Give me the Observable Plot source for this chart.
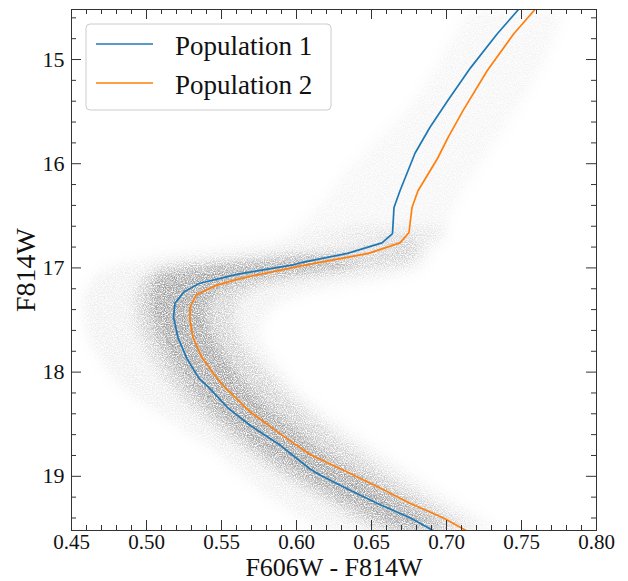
<!DOCTYPE html>
<html><head><meta charset="utf-8">
<script src="https://cdn.jsdelivr.net/npm/d3@7"></script>
<script src="https://cdn.jsdelivr.net/npm/@observablehq/plot@0.6"></script>
<style>body{margin:0;background:#fff} svg{display:block}</style>
</head><body><div id="chart"></div>
<script>
// ---------- data ----------
const seriesNames = ["Population 1", "Population 2"];
const seriesColors = ["#1f77b4", "#ff7f0e"];

// Population 1 isochrone (colour, magnitude), listed along the curve
const pop1Color = [0.748,0.734,0.716,0.701,0.689,0.679,0.669,0.665,0.664,0.657,0.634,0.603,0.598,0.561,0.535,0.525,0.519,0.518,0.521,0.527,0.535,0.541,0.554,0.569,0.589,0.609,0.616,0.631,0.654,0.676,0.691];
const pop1Mag   = [14.52,14.75,15.08,15.39,15.65,15.90,16.26,16.42,16.67,16.76,16.86,16.95,16.97,17.06,17.15,17.23,17.34,17.47,17.67,17.87,18.06,18.14,18.34,18.51,18.70,18.93,18.99,19.10,19.26,19.40,19.52];

// Population 2 isochrone
const pop2Color = [0.759,0.745,0.727,0.711,0.701,0.694,0.681,0.677,0.675,0.669,0.648,0.603,0.563,0.546,0.533,0.529,0.529,0.531,0.537,0.547,0.554,0.569,0.589,0.609,0.631,0.654,0.676,0.698,0.713];
const pop2Mag   = [14.52,14.75,15.11,15.49,15.75,15.95,16.26,16.42,16.66,16.76,16.86,16.98,17.10,17.17,17.26,17.38,17.50,17.67,17.86,18.06,18.17,18.38,18.59,18.79,18.94,19.10,19.26,19.40,19.52];

// star cloud envelopes (magnitude, blue edge, red edge): sparse giants, faint halo, medium, dense core
const rgbMag   = [14.52,15.0,15.5,16.0,16.4,16.75];
const rgbLeft  = [0.716,0.696,0.673,0.639,0.616,0.590];
const rgbRight = [0.779,0.766,0.746,0.723,0.706,0.696];

const outerMag   = [16.6,16.75,16.85,17.0,17.15,17.3,17.6,17.9,18.2,18.5,18.8,19.1,19.52];
const outerLeft  = [0.640,0.590,0.529,0.476,0.463,0.458,0.460,0.470,0.489,0.519,0.549,0.573,0.616];
const outerRight = [0.700,0.696,0.689,0.683,0.643,0.596,0.576,0.586,0.603,0.629,0.659,0.689,0.736];

const midMag   = [16.7,16.8,16.9,16.97,17.05,17.15,17.3,17.5,17.7,17.9,18.2,18.5,18.8,19.1,19.52];
const midLeft  = [0.665,0.640,0.590,0.530,0.505,0.495,0.493,0.493,0.498,0.505,0.520,0.543,0.570,0.603,0.652];
const midRight = [0.680,0.683,0.679,0.669,0.623,0.583,0.563,0.559,0.563,0.573,0.593,0.616,0.643,0.673,0.719];

const coreMag   = [16.9,16.97,17.05,17.15,17.3,17.5,17.7,17.9,18.2,18.5,18.8,19.1,19.52];
const coreLeft  = [0.600,0.560,0.512,0.505,0.503,0.505,0.510,0.518,0.533,0.555,0.581,0.615,0.668];
const coreRight = [0.610,0.640,0.600,0.560,0.543,0.541,0.546,0.555,0.571,0.595,0.621,0.655,0.703];

// axes
const xDomain = [0.45, 0.80];
const yDomain = [14.52, 19.52];
const xMajor = [0.45,0.50,0.55,0.60,0.65,0.70,0.75,0.80];
const yMajor = [15,16,17,18,19];
const xLabel = "F606W - F814W";
const yLabel = "F814W";

// ---------- build ----------
const W = 628, H = 581;
const mL = 71, mR = 32, mT = 9, mB = 51;
const fw = W - mL - mR, fh = H - mT - mB;
const xMinor = d3.range(45, 81).map(d => d / 100).filter(d => !xMajor.some(m => Math.abs(m - d) < 1e-9));
const yMinor = d3.range(73, 98).map(d => d / 5).filter(d => d > yDomain[0] && d < yDomain[1] && !yMajor.includes(d));

const line1 = pop1Color.map((c, i) => ({x: c, y: pop1Mag[i], s: seriesNames[0]}));
const line2 = pop2Color.map((c, i) => ({x: c, y: pop2Mag[i], s: seriesNames[1]}));
const band = (m, l, r) => m.map((v, i) => ({y: v, x1: l[i], x2: r[i]}));

const serif = "'Liberation Serif', 'DejaVu Serif', serif";
const ax = "#333";
const MAJ = 10, MIN = 5;
const cloud = (m, l, r, fill, op) => Plot.areaX(band(m, l, r), {y: "y", x1: "x1", x2: "x2", fill, fillOpacity: op, curve: "natural", clip: true});

const plot = Plot.plot({
  width: W, height: H,
  marginLeft: mL, marginRight: mR, marginTop: mT, marginBottom: mB,
  style: {fontFamily: serif, background: "#fff", color: "#111"},
  x: {domain: xDomain, axis: null},
  y: {domain: yDomain, reverse: true, axis: null},
  color: {domain: seriesNames, range: seriesColors},
  marks: [
    cloud(rgbMag, rgbLeft, rgbRight, "#999", 0.13),
    cloud(outerMag, outerLeft, outerRight, "#999", 0.2),
    cloud(midMag, midLeft, midRight, "#888", 0.36),
    cloud(coreMag, coreLeft, coreRight, "#707070", 0.55),
    Plot.line(line1, {x: "x", y: "y", stroke: "s", strokeWidth: 1.7, clip: true}),
    Plot.line(line2, {x: "x", y: "y", stroke: "s", strokeWidth: 1.7, clip: true}),
    Plot.frame({stroke: ax, strokeWidth: 1}),
    // inward ticks on all four sides
    Plot.ruleX(xMajor, {x: d => d, insetTop: fh - MAJ, stroke: ax}),
    Plot.ruleX(xMajor, {x: d => d, insetBottom: fh - MAJ, stroke: ax}),
    Plot.ruleX(xMinor, {x: d => d, insetTop: fh - MIN, stroke: ax}),
    Plot.ruleX(xMinor, {x: d => d, insetBottom: fh - MIN, stroke: ax}),
    Plot.ruleY(yMajor, {y: d => d, insetRight: fw - MAJ, stroke: ax}),
    Plot.ruleY(yMajor, {y: d => d, insetLeft: fw - MAJ, stroke: ax}),
    Plot.ruleY(yMinor, {y: d => d, insetRight: fw - MIN, stroke: ax}),
    Plot.ruleY(yMinor, {y: d => d, insetLeft: fw - MIN, stroke: ax}),
    // tick labels
    Plot.text(xMajor, {x: d => d, frameAnchor: "bottom", dy: 12, lineAnchor: "middle", textAnchor: "middle", text: d => d3.format(".2f")(d), fontSize: 21, fill: "#111"}),
    Plot.text(yMajor, {y: d => d, frameAnchor: "left", dx: -7, lineAnchor: "middle", textAnchor: "end", text: d => String(d), fontSize: 22, fill: "#111"}),
    // axis titles
    Plot.text([xLabel], {frameAnchor: "bottom", dy: 37.5, lineAnchor: "middle", textAnchor: "middle", text: d => d, fontSize: 26, fill: "#111"}),
    Plot.text([yLabel], {frameAnchor: "left", dx: -45, rotate: -90, lineAnchor: "middle", textAnchor: "middle", text: d => d, fontSize: 28, fill: "#111"})
  ]
});

// give the star-cloud bands a soft, grainy look
const svg = d3.select(plot);
const defs = svg.insert("defs", ":first-child");
const f = defs.append("filter").attr("id", "grain").attr("filterUnits", "userSpaceOnUse")
  .attr("x", 0).attr("y", 0).attr("width", W).attr("height", H);
f.append("feGaussianBlur").attr("in", "SourceGraphic").attr("stdDeviation", 6).attr("result", "blur");
f.append("feTurbulence").attr("type", "fractalNoise").attr("baseFrequency", 0.9).attr("numOctaves", 2).attr("seed", 7).attr("result", "noise");
f.append("feColorMatrix").attr("in", "noise").attr("type", "matrix")
  .attr("values", "0 0 0 0 0  0 0 0 0 0  0 0 0 0 0  2.2 0 0 0 -0.6").attr("result", "mask");
f.append("feComposite").attr("in", "blur").attr("in2", "mask").attr("operator", "in");
svg.selectAll('g[aria-label="area"]').attr("filter", "url(#grain)");

// legend
const lg = svg.append("g").attr("font-family", serif).attr("text-anchor", "start");
lg.append("rect").attr("x", 86).attr("y", 24).attr("width", 245).attr("height", 86).attr("rx", 4)
  .attr("fill", "#fff").attr("fill-opacity", 0.8).attr("stroke", "#ccc");
seriesNames.forEach((name, i) => {
  const cy = 44 + i * 39;
  lg.append("line").attr("x1", 96).attr("x2", 153).attr("y1", cy).attr("y2", cy)
    .attr("stroke", seriesColors[i]).attr("stroke-width", 1.7);
  lg.append("text").attr("x", 175).attr("y", cy + 11).attr("font-size", 27).attr("fill", "#111")
    .attr("text-anchor", "start").text(name);
});

document.getElementById("chart").append(plot);
</script>
</body></html>
